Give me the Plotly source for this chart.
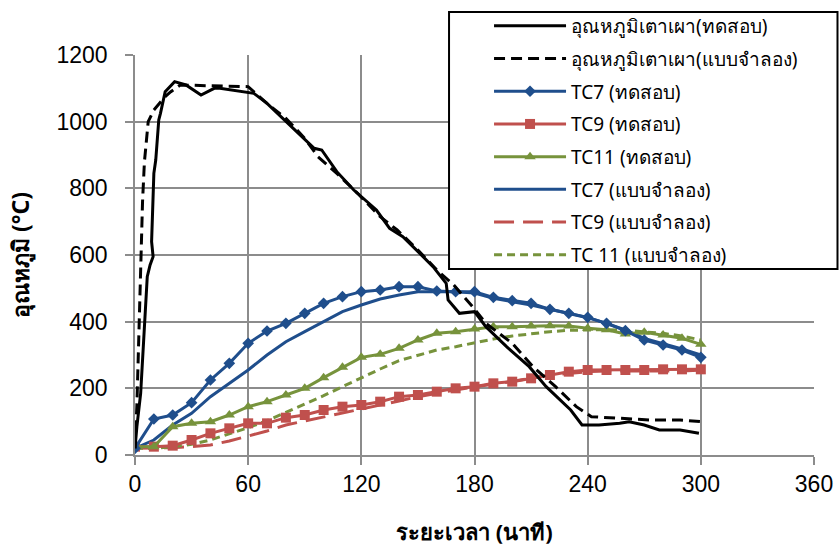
import plotly.graph_objects as go

# Furnace temperature, measured (irregular sampling, minutes / °C)
furnace_test_t = [0, 1, 3, 4, 5, 6.5, 8, 9.6, 8.8, 9.2, 10, 11, 12.6, 13.5, 15, 16, 21, 27, 35, 42,
                  45, 59, 63, 70, 80, 90, 95, 99, 107, 116, 123, 128, 135, 142, 151, 158, 165, 166,
                  172, 180, 186, 197, 209, 218, 231, 237, 246, 257, 262, 270, 278, 289, 299]
furnace_test_v = [20, 85, 185, 285, 385, 535, 570, 595, 640, 725, 845, 885, 1005, 1025, 1070, 1090,
                  1120, 1110, 1080, 1100, 1100, 1087, 1085, 1055, 1000, 945, 920, 915, 850, 795, 760,
                  735, 680, 655, 605, 565, 515, 465, 425, 430, 385, 325, 265, 205, 135, 90, 90, 95,
                  100, 90, 75, 75, 65]

# Furnace temperature, simulated
furnace_model_t = [0, 1, 2, 3, 4, 5, 7, 10, 16, 19, 24, 60, 66, 71, 80, 90, 97, 107, 118, 130, 139,
                   150, 160, 169, 179, 186, 200, 211, 223, 234, 242, 250, 260, 273, 289, 300]
furnace_model_v = [20, 150, 350, 550, 760, 880, 1000, 1035, 1075, 1090, 1110, 1105, 1075, 1050, 1010,
                   950, 895, 845, 785, 715, 675, 615, 555, 510, 445, 395, 335, 265, 205, 145, 115,
                   112, 110, 105, 105, 100]

# Thermocouples, sampled every 10 minutes
tc_time = list(range(0, 301, 10))
tc7_test = [20, 108, 120, 157, 225, 275, 335, 372, 395, 425, 455, 475, 490, 495, 505, 505, 492, 490,
            490, 473, 463, 455, 437, 425, 413, 395, 373, 345, 330, 315, 293]
tc9_test = [25, 25, 28, 45, 65, 80, 95, 95, 112, 120, 135, 145, 150, 160, 175, 180, 190, 200, 205,
            215, 220, 230, 240, 250, 255, 255, 255, 255, 257, 257, 257]
tc11_test = [25, 25, 85, 95, 100, 120, 145, 160, 180, 200, 232, 263, 293, 302, 320, 345, 365, 370,
             378, 385, 385, 387, 388, 387, 380, 376, 363, 368, 360, 350, 332]
tc7_model = [20, 45, 90, 125, 175, 215, 255, 300, 340, 370, 400, 430, 450, 468, 480, 490, 490, 490,
             486, 470, 460, 450, 437, 425, 412, 395, 375, 350, 335, 318, 300]
tc9_model = [20, 20, 22, 25, 30, 42, 57, 72, 90, 102, 112, 125, 137, 150, 162, 175, 185, 195, 205,
             212, 220, 230, 240, 245, 250, 252, 252, 250, 250, 252, 255]
tc11_model = [20, 20, 25, 32, 45, 63, 82, 103, 128, 152, 178, 205, 232, 258, 283, 300, 315, 325, 337,
              348, 357, 364, 370, 374, 376, 376, 374, 370, 365, 357, 345]

x_ticks = [0, 60, 120, 180, 240, 300, 360]
y_ticks = [0, 200, 400, 600, 800, 1000, 1200]

BLUE = "#1F4E8C"
RED = "#C0504D"
GREEN = "#77933C"
BLACK = "#000000"

names = [
    "อุณหภูมิเตาเผา(ทดสอบ)",
    "อุณหภูมิเตาเผา(แบบจำลอง)",
    "TC7 (ทดสอบ)",
    "TC9 (ทดสอบ)",
    "TC11 (ทดสอบ)",
    "TC7 (แบบจำลอง)",
    "TC9 (แบบจำลอง)",
    "TC 11 (แบบจำลอง)",
]


def series(x, y, rank, line, marker=None):
    mode = "lines+markers" if marker else "lines"
    return go.Scatter(x=x, y=y, name=names[rank - 1], mode=mode, legendrank=rank,
                      legendgroup="g%d" % rank, line=line, marker=marker)


fig = go.Figure()
fig.add_trace(series(tc_time, tc9_model, 7, dict(color=RED, width=3, dash="20px,9px")))
fig.add_trace(series(tc_time, tc11_model, 8, dict(color=GREEN, width=3, dash="8px,5px")))
fig.add_trace(series(tc_time, tc7_model, 6, dict(color=BLUE, width=3)))
fig.add_trace(series(tc_time, tc9_test, 4, dict(color=RED, width=3),
                     dict(symbol="square", size=10, color=RED)))
fig.add_trace(series(tc_time, tc11_test, 5, dict(color=GREEN, width=3),
                     dict(symbol="triangle-up", size=10, color=GREEN)))
fig.add_trace(series(tc_time, tc7_test, 3, dict(color=BLUE, width=3),
                     dict(symbol="diamond", size=9, color=BLUE)))
fig.add_trace(series(furnace_model_t, furnace_model_v, 2,
                     dict(color=BLACK, width=3, dash="11px,6px")))
fig.add_trace(series(furnace_test_t, furnace_test_v, 1, dict(color=BLACK, width=3)))

axis_common = dict(
    showgrid=True, gridcolor="#8C8C8C", gridwidth=1.5,
    showline=True, linecolor="#8C8C8C", linewidth=1.5,
    ticks="outside", ticklen=8, tickcolor="#8C8C8C", tickwidth=1.5,
    zeroline=False, automargin=False,
    tickfont=dict(family="Liberation Sans, Arial, sans-serif", size=23, color="#000000"),
)

# Framed, opaque box behind the legend entries (extends to the right edge)
legend_frame = dict(type="rect", xref="paper", yref="paper",
                    x0=0.4625, x1=1.0346, y0=0.465, y1=1.1075,
                    fillcolor="white", line=dict(color="#000000", width=2), layer="above")

# x-axis title placed below the tick labels, kept inside the page
x_title = dict(text="<b>ระยะเวลา (นาที)</b>", xref="paper", yref="paper", x=0.5, y=-0.2305,
               xanchor="center", yanchor="bottom", showarrow=False, borderpad=0,
               font=dict(size=22))

fig.update_layout(
    width=840, height=548,
    margin=dict(l=134.5, r=25.5, t=55, b=93, autoexpand=False),
    paper_bgcolor="white", plot_bgcolor="white",
    font=dict(family="Noto Sans, Tahoma, sans-serif", color="#000000"),
    xaxis=dict(range=[0, 360], tickvals=x_ticks, **axis_common),
    yaxis=dict(range=[0, 1200], tickvals=y_ticks, ticklabelstandoff=13, **axis_common,
               title=dict(text="<b>อุณหภูมิ (°C)</b>", font=dict(size=23), standoff=20)),
    shapes=[legend_frame],
    annotations=[x_title],
    legend=dict(
        x=0.4625, y=1.12, xanchor="left", yanchor="top",
        bgcolor="rgba(0,0,0,0)", borderwidth=0,
        font=dict(size=19), itemwidth=72, tracegroupgap=5, indentation=40,
        maxheight=400,
    ),
    showlegend=True,
)

fig.write_html("out.html")
